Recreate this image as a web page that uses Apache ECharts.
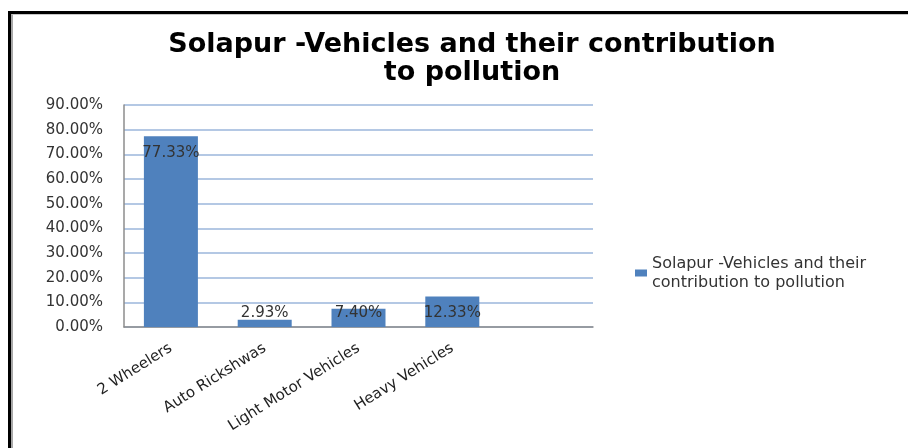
<!DOCTYPE html>
<html>
<head>
<meta charset="utf-8">
<script src="https://cdn.jsdelivr.net/npm/echarts@6/dist/echarts.min.js"></script>
<style>
html,body{margin:0;padding:0;background:#fff;overflow:hidden;}
#wrap{position:relative;width:908px;height:448px;overflow:hidden;}
#chart{position:absolute;left:0;top:0;width:908px;height:448px;}
#frame{position:absolute;left:8px;top:11px;width:1000px;height:1000px;border-left:3px solid #000;border-top:3px solid #000;pointer-events:none;}
#frame2{position:absolute;left:11px;top:14px;width:1000px;height:1000px;border-left:2px solid #a8a8a8;border-top:1px solid #c8c8c8;pointer-events:none;}
</style>
</head>
<body>
<div id="wrap"><div id="chart"></div><div id="frame"></div><div id="frame2"></div></div>
<script>
const titleText = 'Solapur -Vehicles and their contribution\nto pollution';
const seriesName = 'Solapur -Vehicles and their contribution to pollution';
const categories = ['2 Wheelers', 'Auto Rickshwas', 'Light Motor Vehicles', 'Heavy Vehicles', ''];
const values = [77.33, 2.93, 7.40, 12.33, null];
const yTicks = { min: 0, max: 90, interval: 10 };

const chart = echarts.init(document.getElementById('chart'), null, { renderer: 'canvas' });
const font = 'DejaVu Sans';

chart.setOption({
  animation: false,
  backgroundColor: '#ffffff',
  title: {
    text: titleText,
    left: 467,
    textAlign: 'center',
    top: 26,
    textStyle: { fontFamily: font, fontWeight: 'bold', fontSize: 27, color: '#000', lineHeight: 28 }
  },
  legend: {
    left: 630,
    top: 249,
    orient: 'vertical',
    itemWidth: 12,
    itemHeight: 7,
    itemGap: 6,
    formatter: () => 'Solapur -Vehicles and their\ncontribution to pollution',
    textStyle: { fontFamily: font, fontSize: 16, color: '#333', lineHeight: 19 },
    data: [{ name: seriesName, icon: 'rect' }]
  },
  grid: { left: 124, right: 315, top: 105, bottom: 121, containLabel: false },
  xAxis: {
    type: 'category',
    data: categories,
    axisLine: { show: true, lineStyle: { color: '#8c8c8c', width: 1.5 } },
    axisTick: { show: false },
    axisLabel: {
      interval: 0,
      rotate: 32,
      margin: 20,
      fontFamily: font,
      fontSize: 15,
      color: '#222'
    }
  },
  yAxis: {
    type: 'value',
    min: yTicks.min,
    max: yTicks.max,
    interval: yTicks.interval,
    axisLine: { show: true, lineStyle: { color: '#8c8c8c', width: 1.5 } },
    axisTick: { show: false },
    splitLine: { show: true, lineStyle: { color: '#b4c8e4', width: 2 } },
    axisLabel: {
      margin: 21,
      fontFamily: font,
      fontSize: 15,
      color: '#333',
      formatter: v => v.toFixed(2) + '%'
    }
  },
  series: [{
    name: seriesName,
    type: 'bar',
    barWidth: 54,
    itemStyle: { color: '#4f81bd' },
    data: values.map((v, i) => ({
      value: v,
      label: i === 0
        ? { position: 'insideTop', distance: 9 }
        : { position: 'insideBottom', distance: 6 }
    })),
    label: {
      show: true,
      fontFamily: font,
      fontSize: 15,
      color: '#333',
      formatter: p => p.value == null ? '' : p.value.toFixed(2) + '%'
    }
  }]
});
</script>
</body>
</html>
